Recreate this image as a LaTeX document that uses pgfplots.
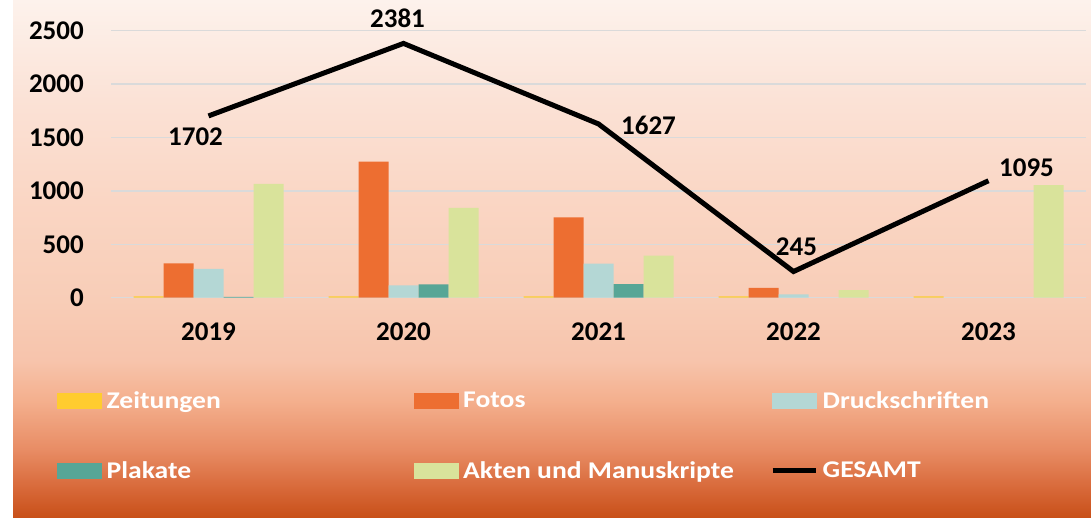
\documentclass[border=0pt]{standalone}
\usepackage{fontspec}
\setmainfont{Carlito}
\newfontfamily\legfont{Carlito}[FakeStretch=1.15]
\usepackage{pgfplots}
\pgfplotsset{compat=1.18}
\definecolor{zeit}{RGB}{255,204,47}
\definecolor{foto}{RGB}{237,110,49}
\definecolor{druck}{RGB}{180,215,213}
\definecolor{plak}{RGB}{87,166,150}
\definecolor{akten}{RGB}{217,227,155}
\definecolor{gridg}{RGB}{218,218,218}
\definecolor{bgA}{RGB}{200,80,25}
\definecolor{bgB}{RGB}{215,103,55}
\definecolor{bgC}{RGB}{232,140,100}
\definecolor{bgD}{RGB}{244,176,142}
\definecolor{bgE}{RGB}{247,196,172}
\definecolor{bgF}{RGB}{248,205,183}
\definecolor{bgG}{RGB}{250,214,196}
\definecolor{bgH}{RGB}{251,226,214}
\definecolor{bgI}{RGB}{253,242,236}
\pgfdeclareverticalshading{bgshade}{100bp}{color(0bp)=(bgA); color(25bp)=(bgA); color(27.61bp)=(bgB); color(31.48bp)=(bgC); color(36.32bp)=(bgD); color(40.18bp)=(bgE); color(45.99bp)=(bgF); color(55.66bp)=(bgG); color(65.33bp)=(bgH); color(75bp)=(bgI); color(100bp)=(bgI)}
\pgfplotsset{
  barleg/.style={legend image code/.code={\fill[##1] (0pt,-8pt) rectangle (45pt,8pt);}},
  lineleg/.style={legend image code/.code={\draw[##1] (1pt,0pt) -- (44pt,0pt);}},
}
\newcommand{\bigf}{\bfseries\fontsize{27}{32}\selectfont}
\begin{document}
\begin{tikzpicture}
\shade[shading=bgshade] (13pt,0pt) rectangle (1091pt,517pt);
\begin{axis}[
  at={(111pt,219.3pt)}, anchor=south west,
  scale only axis, width=975pt, height=267pt,
  xmin=-0.5, xmax=4.5, ymin=0, ymax=2500,
  clip=false,
  axis line style={draw=none},
  major tick length=0pt,
  ymajorgrids, grid style={line width=1.5pt, gridg},
  ytick={0,500,1000,1500,2000,2500},
  xtick={0,1,2,3,4}, xticklabels={2019,2020,2021,2022,2023},
  scaled y ticks=false,
  /pgf/number format/1000 sep={},
  /pgf/number format/assume math mode=true,
  ticklabel style={font=\bigf, text=black},
  yticklabel style={anchor=east, inner sep=0pt, xshift=-27pt},
  xticklabel style={anchor=base, inner sep=0pt, yshift=-43pt},
  legend columns=3,
  legend style={draw=none, fill=none, inner sep=0pt,
    at={(axis description cs:-0.0554,-0.35)}, anchor=north west,
    font=\legfont\bfseries\fontsize{24}{28}\selectfont, text=white,
    row sep=52pt,
    nodes={inner sep=0pt},
    /tikz/every odd column/.style={column sep=4.5pt}},
]
\addplot[draw=none, fill=zeit, ybar, bar width=30pt, bar shift=-60pt, barleg] coordinates {(0,12) (1,12) (2,12) (3,12) (4,12)};
\addlegendentry{\makebox[307pt][l]{Zeitungen}}
\addplot[draw=none, fill=foto, ybar, bar width=30pt, bar shift=-30pt, barleg] coordinates {(0,322) (1,1273) (2,753) (3,91)};
\addlegendentry{\makebox[307pt][l]{Fotos}}
\addplot[draw=none, fill=druck, ybar, bar width=30pt, bar shift=0pt, barleg] coordinates {(0,269) (1,116) (2,318) (3,32)};
\addlegendentry{\makebox[200pt][l]{Druckschriften}}
\addplot[draw=none, fill=plak, ybar, bar width=30pt, bar shift=30pt, barleg] coordinates {(0,8) (1,125) (2,128)};
\addlegendentry{\makebox[307pt][l]{Plakate}}
\addplot[draw=none, fill=akten, ybar, bar width=30pt, bar shift=60pt, barleg] coordinates {(0,1065) (1,840) (2,393) (3,72) (4,1055)};
\addlegendentry{\makebox[307pt][l]{Akten und Manuskripte}}
\addplot[sharp plot, black, line width=5pt, mark=none, lineleg] coordinates {(0,1702) (1,2381) (2,1627) (3,245) (4,1095)};
\addlegendentry{\makebox[200pt][l]{GESAMT}}
\node[font=\bigf, xshift=-13pt, yshift=-21pt] at (axis cs:0,1702) {1702};
\node[font=\bigf, xshift=-6pt, yshift=25pt] at (axis cs:1,2381) {2381};
\node[font=\bigf, xshift=50pt, yshift=-1pt] at (axis cs:2,1627) {1627};
\node[font=\bigf, xshift=3pt, yshift=25pt] at (axis cs:3,245) {245};
\node[font=\bigf, xshift=38pt, yshift=13pt] at (axis cs:4,1095) {1095};
\end{axis}
\pgfresetboundingbox
\path[use as bounding box] (0pt,0pt) rectangle (1091pt,517pt);
\end{tikzpicture}
\end{document}
